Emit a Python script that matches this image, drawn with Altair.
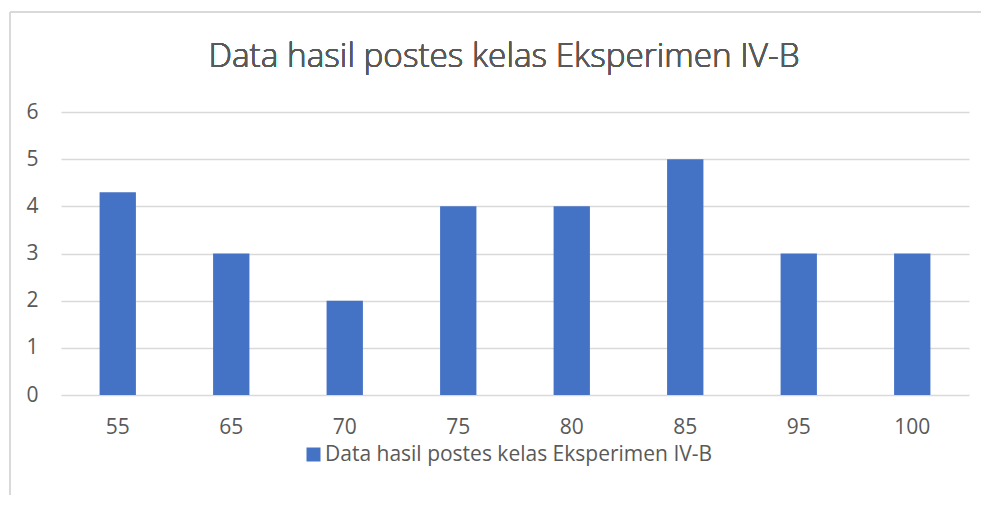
import altair as alt
import pandas as pd

categories = ["55", "65", "70", "75", "80", "85", "95", "100"]
values = [4.3, 3, 2, 4, 4, 5, 3, 3]
series = "Data hasil postes kelas Eksperimen IV-B"

df = pd.DataFrame({"nilai": categories, "jumlah": values, "seri": [series] * len(categories)})

FONT = "Open Sans"
GREY = "#595959"

bars = alt.Chart(df).mark_bar(color="#4472C4").encode(
    x=alt.X("nilai:N", sort=categories, title=None,
            scale=alt.Scale(paddingInner=0.68, paddingOuter=0.34),
            axis=alt.Axis(labelAngle=0, labelFontSize=21, labelColor=GREY, labelFont=FONT,
                          ticks=False, domain=False, labelPadding=21, grid=False)),
    y=alt.Y("jumlah:Q", title=None, scale=alt.Scale(domain=[0, 6], nice=False),
            axis=alt.Axis(values=[0, 1, 2, 3, 4, 5, 6], labelFontSize=21, labelColor=GREY,
                          labelFont=FONT, ticks=False, domain=False, labelPadding=23,
                          gridColor="#D9D9D9", gridWidth=1.3)),
    fill=alt.Fill("seri:N", scale=alt.Scale(range=["#4472C4"]),
                  legend=alt.Legend(title=None, orient="none", legendX=242, legendY=332,
                                    symbolType="square", symbolSize=196, symbolStrokeWidth=0,
                                    labelOffset=1,
                                    labelFontSize=21, labelColor=GREY, labelFont=FONT,
                                    labelLimit=700)),
)

title = alt.Chart(df).mark_text(font=FONT, fontSize=33.3, fontWeight=300, color=GREY,
                                align="center", baseline="alphabetic").encode(
    x=alt.value(443), y=alt.value(-45), text=alt.value(series))

border_h = alt.Chart(df).mark_rule(color="#D9D9D9", strokeWidth=1.5).encode(
    x=alt.value(-51), x2=alt.value(920), y=alt.value(-100))
border_v = alt.Chart(df).mark_rule(color="#D9D9D9", strokeWidth=1.5).encode(
    x=alt.value(-51), y=alt.value(-100), y2=alt.value(391))

chart = alt.layer(border_h, border_v, bars, title).properties(
    width=908, height=283,
    autosize=alt.AutoSizeParams(type="none"),
    padding={"left": 53, "top": 104, "right": 12, "bottom": 100},
).configure_view(stroke=None)

chart.save("out.html", embed_options={"renderer": "svg", "actions": False})
